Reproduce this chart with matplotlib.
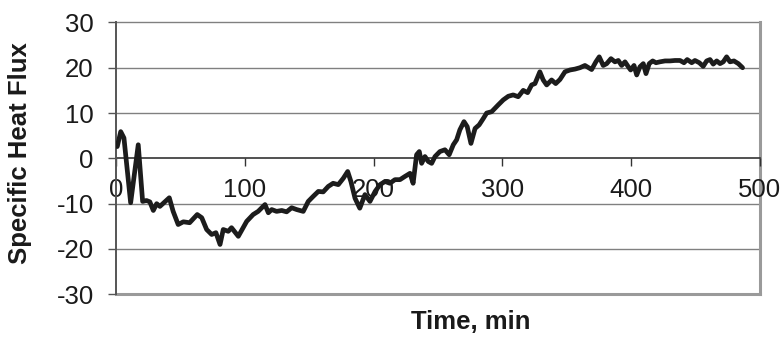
import matplotlib
matplotlib.use("Agg")
import matplotlib.pyplot as plt

# specific heat flux trace over time (min)
time_min = [1, 3.7, 6.2, 11.4, 17.3, 20.7, 23.7, 26.3, 29, 31.6, 34.1, 41.4, 44.4,
            48.3, 52.3, 57.2, 63.1, 66.6, 70.4, 74.3, 77.6, 80.8, 83.3, 87.2, 89.7,
            95, 101.5, 106.5, 110.4, 115.7, 118.3, 120.9, 124.7, 128.7, 132.5, 136.4,
            140.3, 145.4, 149.3, 153.1, 157.1, 160.9, 164.8, 168.6, 172.6, 176.5,
            179.9, 182.4, 185.6, 189.3, 193.3, 197.2, 201.2, 205, 208.9, 212.7, 216.6,
            220.5, 224.3, 228.3, 230.7, 233.4, 235.5, 237.3, 239.9, 242.5, 245.1,
            247.7, 251.5, 255.4, 258.7, 261.9, 264.5, 267, 270.2, 272.7, 275.6, 278.8,
            282, 285.2, 287.8, 291.7, 296.8, 300.7, 304.6, 308.4, 312.3, 316.2, 319.6,
            322.7, 325.3, 329.1, 331.7, 334.4, 338.2, 341.4, 344.7, 348.6, 352.5,
            356.4, 360.2, 364.1, 369.3, 372.6, 375.2, 378.3, 381, 384.3, 387.4, 390,
            392.6, 395.2, 397.8, 399.6, 402.2, 404.3, 406.8, 409.4, 411.5, 414, 416.7,
            419.3, 422.3, 426.3, 430.1, 434, 437.9, 441, 443.5, 447, 449.5, 452.9,
            455.9, 458.6, 461.2, 463.7, 466.4, 469, 471.5, 474.1, 476.7, 479.8,
            483.2, 486.5]
heat_flux = [2.6, 5.9, 4.5, -9.8, 3, -9.5, -9.3, -9.6, -11.5, -10, -10.6, -8.7, -11.7,
             -14.6, -14, -14.2, -12.4, -13.1, -15.7, -16.8, -16.4, -19, -15.7, -16.1,
             -15.3, -17.2, -13.9, -12.4, -11.7, -10.2, -12, -11.3, -11.7, -11.5, -11.8,
             -10.9, -11.3, -11.7, -9.5, -8.4, -7.3, -7.4, -6.2, -5.5, -5.8, -4.4,
             -2.9, -5.1, -8.8, -11, -8, -9.5, -7.3, -5.8, -5.1, -5.5, -4.7,
             -4.7, -4, -3.3, -5.5, 0.8, 1.5, -1.1, 0.4, -0.7, -1.1,
             0.4, 1.5, 1.9, 0.8, 3, 4.1, 6.3, 8.1, 7, 3.3, 6.6,
             7.4, 8.8, 10, 10.3, 11.8, 12.9, 13.7, 14, 13.6, 15, 14.5,
             16.2, 16.5, 19.1, 17.3, 16.2, 17.3, 16.5, 17.4, 19.1, 19.5,
             19.7, 20, 20.5, 19.6, 21.3, 22.4, 20.5, 20.9, 22, 21.3, 21.6,
             20.5, 21.3, 20.2, 19.5, 20.5, 18.4, 20.2, 20.9, 18.7, 20.9, 21.5,
             21.1, 21.3, 21.5, 21.5, 21.6, 21.6, 21.1, 21.8, 21.1, 21.6, 21.1,
             20.3, 21.5, 21.8, 20.8, 21.5, 20.9, 21.3, 22.4, 21.3, 21.5,
             20.9, 20]

x_ticks = [0, 100, 200, 300, 400, 500]
y_ticks = [-30, -20, -10, 0, 10, 20, 30]

plt.rcParams['font.family'] = ['Liberation Sans', 'DejaVu Sans']
plt.rcParams['axes.unicode_minus'] = False

fig = plt.figure(figsize=(7.83, 3.37), dpi=100)
ax = fig.add_axes([0.1481, 0.1267, 0.8225, 0.8068])

ax.set_xlim(0, 500)
ax.set_ylim(-30, 30)

# horizontal grid and grey plot-area frame
for y in y_ticks:
    if y in (0, -30):
        continue
    ax.axhline(y, color='#808080', lw=1.0, zorder=1, clip_on=False)
ax.axhline(-30, color='#9a9a9a', lw=2.2, zorder=1, clip_on=False)
ax.axvline(500, color='#9a9a9a', lw=2.2, zorder=1, clip_on=False)

ax.plot(time_min, heat_flux, color='#1c1c1c', lw=3.4,
        solid_joinstyle='round', solid_capstyle='round', zorder=3)

# x axis crosses at zero
for side in ('top', 'right'):
    ax.spines[side].set_visible(False)
ax.spines['bottom'].set_position(('data', 0))
ax.spines['bottom'].set_color('#333333')
ax.spines['bottom'].set_linewidth(1.2)
ax.spines['bottom'].set_zorder(2)
ax.spines['left'].set_color('#555555')
ax.spines['left'].set_linewidth(1.4)

ax.set_xticks(x_ticks)
ax.set_yticks(y_ticks)
ax.tick_params(axis='x', direction='out', length=6, width=1.0, color='#333333',
               labelsize=18.5, labelcolor='#1a1a1a', pad=8)
ax.tick_params(axis='y', direction='out', length=6, width=1.0, color='#555555',
               labelsize=18.5, labelcolor='#1a1a1a', pad=10)

fig.text(20 / 783, 1 - 153 / 337, 'Specific Heat Flux', rotation=90,
         ha='center', va='center', fontsize=18.5, fontweight='bold', color='#1a1a1a')
fig.text(471 / 783, 1 - 322 / 337, 'Time, min', ha='center', va='center',
         fontsize=18.5, fontweight='bold', color='#1a1a1a')

fig.savefig('out.png', dpi=100)
